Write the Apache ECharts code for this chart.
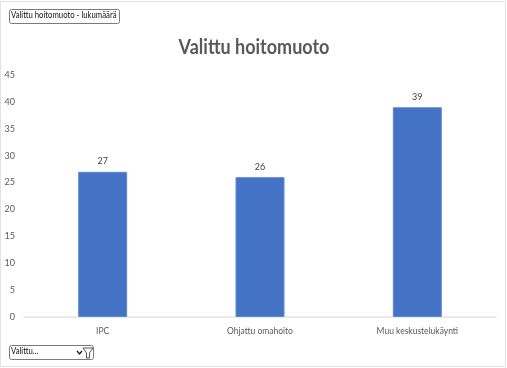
<!DOCTYPE html>
<html>
<head>
<meta charset="utf-8">
<style>
html,body{margin:0;padding:0;background:#fff;}
#main{width:507px;height:368px;}
</style>
<script src="https://cdn.jsdelivr.net/npm/echarts@6/dist/echarts.min.js"></script>
</head>
<body>
<div id="main"></div>
<script>
var categories = ['IPC', 'Ohjattu omahoito', 'Muu keskustelukäynti'];
var counts = [27, 26, 39];
var titleText = 'Valittu hoitomuoto';
var fieldButton = 'Valittu hoitomuoto - lukumäärä';
var filterButton = 'Valittu...';

var myChart = echarts.init(document.getElementById('main'));
var font = 'Lato';
var option = {
    animation: false,
    grid: {left: 24, right: 11, top: 75, bottom: 51},
    xAxis: {
        type: 'category',
        data: categories,
        axisLine: {lineStyle: {color: '#e3e3e3', width: 1.5}},
        axisTick: {show: false},
        axisLabel: {fontFamily: font, fontSize: 8.5, color: '#595959', margin: 10}
    },
    yAxis: {
        type: 'value',
        min: 0,
        max: 45,
        interval: 5,
        axisLine: {show: false},
        axisTick: {show: false},
        splitLine: {show: false},
        axisLabel: {fontFamily: font, fontSize: 9, color: '#595959', margin: 9}
    },
    series: [{
        type: 'bar',
        data: counts,
        barWidth: 49,
        itemStyle: {color: '#4472c4', borderColor: '#5b8ad8', borderWidth: 1},
        label: {
            show: true,
            position: 'top',
            distance: 6,
            fontFamily: font,
            fontSize: 9,
            color: '#404040'
        }
    }],
    graphic: [
        // frame of the chart area
        {type: 'rect', shape: {x: 0.5, y: 1.5, width: 505, height: 365},
            style: {fill: 'none', stroke: '#e2e2e2', lineWidth: 1}, silent: true, z: 0},
        // title, squeezed a bit because the original font is narrower
        {type: 'text', x: 254, y: 48, scaleX: 0.9,
            style: {text: titleText, font: 'bold 20px Lato', fill: '#595959', textAlign: 'center', textVerticalAlign: 'middle'}, silent: true},
        // field button top left
        {type: 'rect', shape: {x: 9.5, y: 9.5, width: 110, height: 14, r: 2},
            style: {fill: '#fff', stroke: '#7a7a7a', lineWidth: 1}, silent: true},
        {type: 'text', x: 11, y: 11, scaleX: 0.86,
            style: {text: fieldButton, font: '9px Lato', fill: '#111'}, silent: true},
        // filter button bottom left
        {type: 'rect', shape: {x: 9.5, y: 345.5, width: 84, height: 14, r: 2},
            style: {fill: '#fff', stroke: '#7a7a7a', lineWidth: 1}, silent: true},
        {type: 'text', x: 11, y: 347, scaleX: 0.86,
            style: {text: filterButton, font: '9px Lato', fill: '#111'}, silent: true},
        // dropdown arrow
        {type: 'polyline', shape: {points: [[77, 351], [79.5, 354], [82, 351]]},
            style: {fill: 'none', stroke: '#222', lineWidth: 1.4}, silent: true},
        // funnel icon
        {type: 'polygon', shape: {points: [[83, 348], [93, 348], [89.5, 353], [89.5, 358], [86.5, 358], [86.5, 353]]},
            style: {fill: '#fff', stroke: '#555', lineWidth: 1}, silent: true}
    ]
};
myChart.setOption(option);
window.onresize = myChart.resize;
</script>
</body>
</html>
